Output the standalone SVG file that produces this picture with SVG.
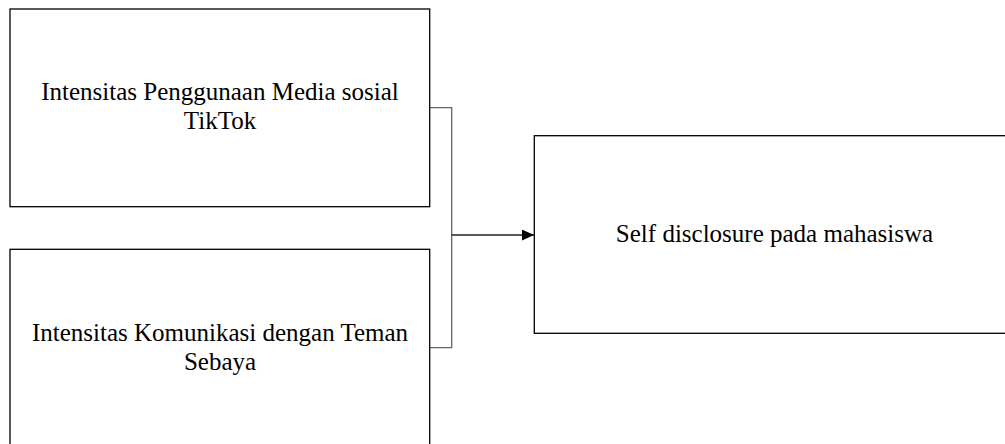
<svg xmlns="http://www.w3.org/2000/svg" width="1005" height="444" viewBox="0 0 1005 444">
<style>
.box{fill:#fff;stroke:#000;stroke-width:1.3}
.t{font-family:"Liberation Serif","Times New Roman",serif;font-size:25px;fill:#000;text-anchor:middle}
.br{fill:none;stroke:#666;stroke-width:1.3}
.ar{fill:none;stroke:#222;stroke-width:1.3}
</style>
<defs>
<marker id="ah" markerUnits="userSpaceOnUse" markerWidth="13" markerHeight="11" refX="12" refY="5.5" orient="auto">
<path d="M0,0 L12,5.5 L0,11 Z" fill="#000"/>
</marker>
</defs>
<rect width="1005" height="444" fill="#fff"/>
<g id="connectors">
<path class="br" d="M430,107.7 H451.7 V347.7 H430"/>
<path class="ar" d="M451.7,235 H534" marker-end="url(#ah)"/>
</g>
<g id="node1">
<rect class="box" x="10" y="9" width="419.7" height="197.7"/>
<text class="t" x="220" y="100">Intensitas Penggunaan Media sosial</text>
<text class="t" x="220" y="129">TikTok</text>
</g>
<g id="node2">
<rect class="box" x="10" y="249.3" width="419.7" height="197.7"/>
<text class="t" x="220" y="341">Intensitas Komunikasi dengan Teman</text>
<text class="t" x="220" y="370">Sebaya</text>
</g>
<g id="node3">
<rect class="box" x="534.3" y="135.7" width="480" height="197.6"/>
<text class="t" x="774.5" y="242">Self disclosure pada mahasiswa</text>
</g>
</svg>
